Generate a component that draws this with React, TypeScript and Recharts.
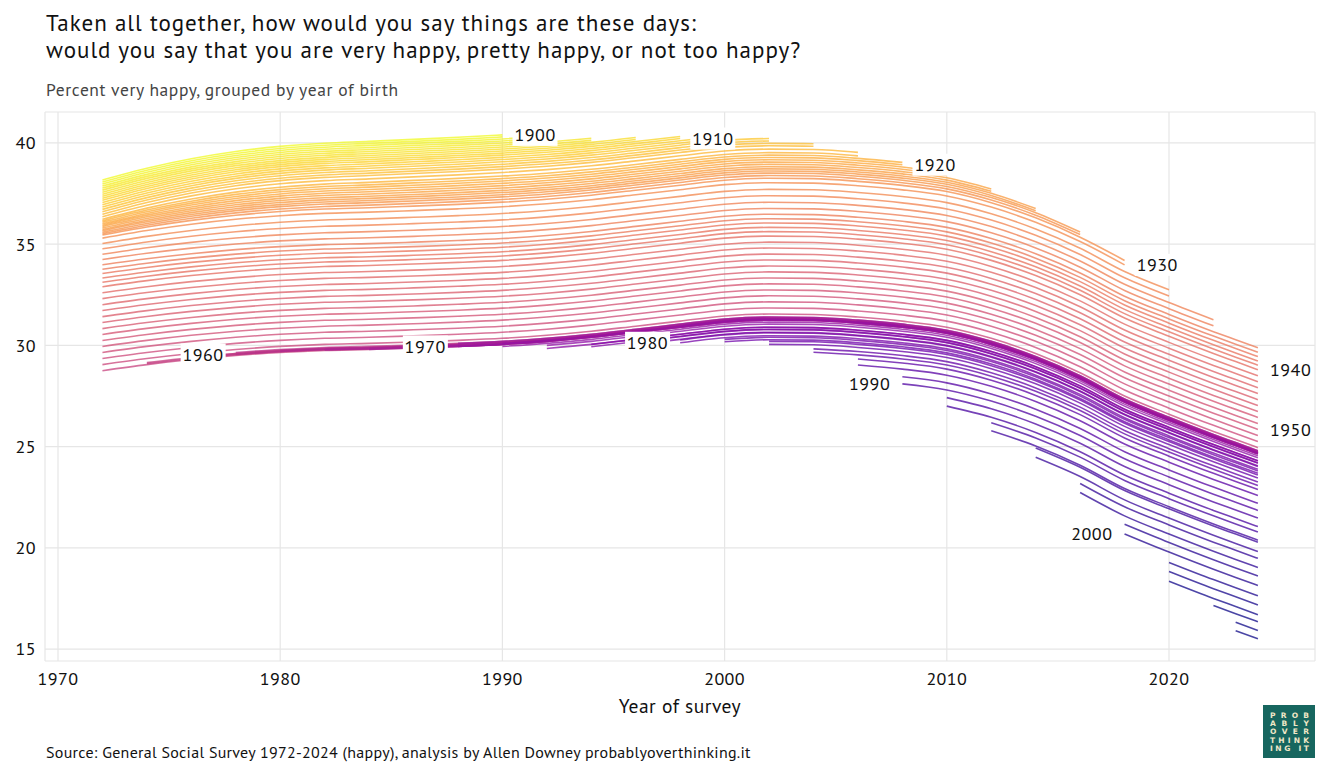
import React from "react";
import { LineChart, Line, XAxis, YAxis, CartesianGrid, ReferenceDot } from "recharts";

// ---- data ----
const SURVEY_YEARS = [1972, 1974, 1976, 1978, 1980, 1982, 1984, 1986, 1988, 1990, 1992, 1994, 1996, 1998, 2000, 2002, 2004, 2006, 2008, 2010, 2012, 2014, 2016, 2018, 2020, 2022, 2023, 2024];
// percent very happy for the reference cohort (top edge of the dense magenta band)
const PERIOD_LEVEL = [28.9, 29.2, 29.45, 29.65, 29.8, 29.9, 29.95, 30.02, 30.1, 30.2, 30.35, 30.55, 30.8, 31.05, 31.3, 31.4, 31.38, 31.25, 31.05, 30.75, 30.2, 29.45, 28.5, 27.35, 26.45, 25.6, 25.2, 24.8];
// extra rise of the oldest cohorts after 1972 (percentage points, by survey year)
const EARLY_LIFT = [0, 0.28, 0.5, 0.66, 0.76, 0.82, 0.86, 0.89, 0.91, 0.93, 0.92, 0.91, 0.9, 0.9, 0.89, 0.88, 0.88, 0.87, 0.87, 0.86, 0.86, 0.86, 0.85, 0.85, 0.85, 0.85, 0.85, 0.85];

const FIRST_COHORT = 1900;
const COHORTS = Array.from({ length: 107 }, (_, i) => FIRST_COHORT + i); // 1900..2006
// offset of each birth cohort from the reference curve (percentage points)
const COHORT_OFFSET = [
  9.27, 9.17, 9.07, 8.97, 8.87, 8.77, 8.67, 8.57, 8.47, 8.37,
  8.27, 8.16, 8.05, 7.94, 7.82, 7.7, 7.58, 7.46, 7.33, 7.25,
  7.18, 7.11, 7.04, 6.97, 6.9, 6.83, 6.76, 6.69, 6.62, 6.55,
  6.4, 6.13, 5.87, 5.6, 5.34, 5.08, 4.86, 4.65, 4.43, 4.22,
  4.0, 3.7, 3.41, 3.11, 2.82, 2.52, 2.23, 1.93, 1.64, 1.34,
  1.05, 0.75, 0.45, 0.15, -0.15, -0.05, -0.1, -0.05, -0.1, 0.0,
  -0.1, -0.05, -0.1, -0.08, -0.12, -0.1, -0.15, -0.1, -0.15, 0.0,
  -0.15, -0.1, -0.25, -0.35, -0.5, -0.5, -0.62, -0.6, -0.75, -0.78,
  -0.92, -1.0, -1.12, -1.2, -1.35, -1.55, -1.72, -1.92, -2.22, -2.6,
  -2.95, -3.33, -3.75, -4.02, -4.42, -4.52, -4.98, -5.32, -5.77, -6.19,
  -6.66, -7.17, -7.62, -8.1, -8.45, -8.88, -9.29,
];
// how strongly each of the oldest cohorts (1900..1934) shares the early extra rise
const EARLY_LIFT_WEIGHT = [
  1, 1, 1, 1, 1, 1, 1, 1, 1, 1,
  1, 1, 1, 1, 1, 1, 1, 0.95, 0.9, 0.85,
  0.8, 0.75, 0.7, 0.65, 0.6, 0.56, 0.52, 0.48, 0.42, 0.35,
  0.27, 0.2, 0.14, 0.08, 0.03,
];

// youngest cohorts whose first survey year is not the regular one
const YOUNG_START: Record<number, number> = { 2001: 2020, 2002: 2020, 2003: 2020, 2004: 2022, 2005: 2023, 2006: 2023 };
const MIN_AGE = 18;
const MAX_AGE = 89;

const RIGHT_LABELS = [1900, 1910, 1920, 1930, 1940, 1950];
const LEFT_LABELS = [1960, 1970, 1980, 1990, 2000];

const X_TICKS = [1970, 1980, 1990, 2000, 2010, 2020];
const Y_TICKS = [15, 20, 25, 30, 35, 40];

const LOGO_LINES = ["PROB", "ABLY", "OVER", "THINK", "ING IT"];

// ---- helpers ----
const evenCeil = (v: number) => Math.ceil(v / 2) * 2;
const evenFloor = (v: number) => Math.floor(v / 2) * 2;
const startYear = (b: number) => YOUNG_START[b] ?? Math.max(SURVEY_YEARS[0], evenCeil(b + MIN_AGE));
const endYear = (b: number) => {
  const last = b + MAX_AGE;
  return Math.min(2024, last <= 1991 ? evenCeil(last) : evenFloor(last));
};
const valueAt = (b: number, yi: number) => {
  const k = b - FIRST_COHORT;
  const w = k < EARLY_LIFT_WEIGHT.length ? EARLY_LIFT_WEIGHT[k] : 0;
  return PERIOD_LEVEL[yi] + COHORT_OFFSET[k] + w * EARLY_LIFT[yi];
};

const table = SURVEY_YEARS.map((year, yi) => {
  const row: Record<string, number> = { year };
  COHORTS.forEach((b) => {
    if (year >= startYear(b) && year <= endYear(b)) row[`c${b}`] = valueAt(b, yi);
  });
  return row;
});

const PLASMA = ["#0d0887", "#41049d", "#6a00a8", "#8f0da4", "#b12a90", "#cc4778", "#e16462", "#f2844b", "#fca636", "#fcce25", "#f0f921"];
const hex = (h: string) => [1, 3, 5].map((i) => parseInt(h.slice(i, i + 2), 16));
const plasma = (t: number) => {
  const x = Math.max(0, Math.min(1, t)) * 10;
  const i = Math.min(9, Math.floor(x));
  const f = x - i;
  const a = hex(PLASMA[i]);
  const c = hex(PLASMA[i + 1]);
  const m = a.map((v, k) => Math.round(v + (c[k] - v) * f));
  return `rgb(${m[0]},${m[1]},${m[2]})`;
};
const cohortColor = (b: number) => plasma(1 - (b - FIRST_COHORT) / 104);

const FONT = '"PT Sans", "Liberation Sans Narrow", "DejaVu Sans Condensed", "Open Sans", sans-serif';

const labelShape = (text: string, side: "left" | "right") => (p: any) => {
  const { cx, cy } = p;
  const w = 45;
  const h = 22;
  const rx = side === "right" ? cx - 1 : cx - w + 1;
  return (
    <g>
      <rect x={rx} y={cy - h / 2} width={w} height={h} fill="#ffffff" />
      <text
        x={side === "right" ? cx + 1 : cx - 1}
        y={cy}
        dominantBaseline="central"
        textAnchor={side === "right" ? "start" : "end"}
        fontSize={18}
        letterSpacing={0.5}
        fill="#111"
        fontFamily={FONT}
      >
        {text}
      </text>
    </g>
  );
};

export default function App() {
  return (
    <div style={{ position: "absolute", left: 0, top: 0, width: 1330, height: 778, background: "#fff", fontFamily: FONT }}>
      <div style={{ position: "absolute", left: 46, top: 11, fontSize: 23, letterSpacing: 1.0, lineHeight: "23px", color: "#111", whiteSpace: "nowrap" }}>
        Taken all together, how would you say things are these days:
      </div>
      <div style={{ position: "absolute", left: 46, top: 38, fontSize: 23, letterSpacing: 1.0, lineHeight: "23px", color: "#111", whiteSpace: "nowrap" }}>
        would you say that you are very happy, pretty happy, or not too happy?
      </div>
      <div style={{ position: "absolute", left: 46, top: 80, fontSize: 17.5, letterSpacing: 0.6, lineHeight: "20px", color: "#444", whiteSpace: "nowrap" }}>
        Percent very happy, grouped by year of birth
      </div>
      <LineChart width={1330} height={778} data={table} margin={{ top: 112, right: 15, left: 15, bottom: 87 }}>
        <CartesianGrid stroke="#e6e6e6" strokeWidth={1.2} />
        <XAxis
          dataKey="year"
          type="number"
          domain={[1969.415, 2026.57]}
          ticks={X_TICKS}
          allowDataOverflow
          height={30}
          axisLine={false}
          tickLine={false}
          tickSize={0}
          tickMargin={11}
          tick={{ fontSize: 18, letterSpacing: 0.4, fill: "#111", fontFamily: FONT }}
        />
        <YAxis
          type="number"
          domain={[14.41, 41.53]}
          ticks={Y_TICKS}
          allowDataOverflow
          width={30}
          axisLine={false}
          tickLine={false}
          tickSize={0}
          tickMargin={9}
          tick={{ fontSize: 18, letterSpacing: 0.4, fill: "#111", fontFamily: FONT }}
        />
        {COHORTS.map((b) => (
          <Line
            key={b}
            dataKey={`c${b}`}
            type="monotone"
            stroke={cohortColor(b)}
            strokeWidth={1.6}
            strokeOpacity={0.75}
            dot={false}
            activeDot={false}
            connectNulls={false}
            isAnimationActive={false}
          />
        ))}
        {RIGHT_LABELS.map((b) => (
          <ReferenceDot
            key={`r${b}`}
            x={endYear(b) + 0.5}
            y={valueAt(b, SURVEY_YEARS.indexOf(endYear(b)))}
            r={0}
            ifOverflow="visible"
            shape={labelShape(String(b), "right")}
          />
        ))}
        {LEFT_LABELS.map((b) => (
          <ReferenceDot
            key={`l${b}`}
            x={startYear(b) - 0.5}
            y={valueAt(b, SURVEY_YEARS.indexOf(startYear(b)))}
            r={0}
            ifOverflow="visible"
            shape={labelShape(String(b), "left")}
          />
        ))}
      </LineChart>
      <div style={{ position: "absolute", left: 0, width: 1360, top: 693, textAlign: "center", fontSize: 19.5, letterSpacing: 0.5, color: "#111" }}>
        Year of survey
      </div>
      <div style={{ position: "absolute", left: 46, top: 742, fontSize: 16, letterSpacing: 0.28, color: "#111", whiteSpace: "nowrap" }}>
        Source: General Social Survey 1972-2024 (happy), analysis by Allen Downey probablyoverthinking.it
      </div>
      <div
        style={{
          position: "absolute",
          left: 1263,
          top: 705,
          width: 52,
          height: 53,
          background: "#17665f",
          boxSizing: "border-box",
          padding: "7px 6px 0 7px",
        }}
      >
        {LOGO_LINES.map((line) => (
          <div
            key={line}
            style={{
              display: "flex",
              justifyContent: "space-between",
              height: 8.2,
              lineHeight: "8.2px",
              fontFamily: "DejaVu Sans, sans-serif",
              fontWeight: 700,
              fontSize: 7.5,
              color: "#f1e8c8",
            }}
          >
            {line.split("").map((ch, i) => (
              <span key={i} style={{ width: ch === " " ? 3 : "auto" }}>{ch === " " ? "\u00a0" : ch}</span>
            ))}
          </div>
        ))}
      </div>
    </div>
  );
}
